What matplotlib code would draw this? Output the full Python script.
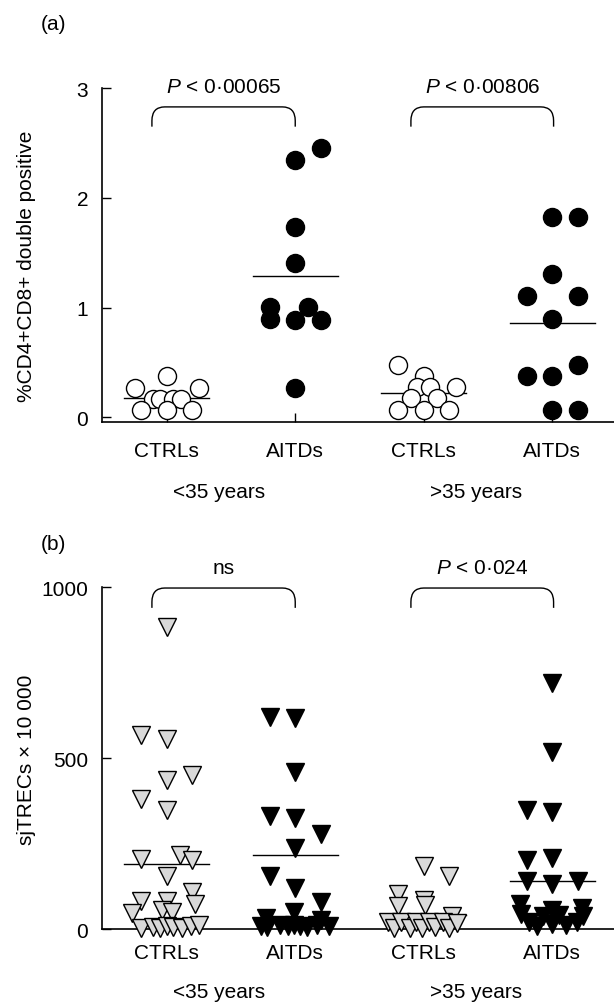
import numpy as np
import matplotlib.pyplot as plt
from matplotlib.path import Path
from matplotlib.patches import PathPatch

plt.rcParams['font.family'] = ['Liberation Sans', 'DejaVu Sans']
plt.rcParams['mathtext.fontset'] = 'custom'
plt.rcParams['mathtext.rm'] = 'Liberation Sans'
plt.rcParams['mathtext.it'] = 'Liberation Sans:italic'

groups = ['CTRLs', 'AITDs', 'CTRLs', 'AITDs']
ages = ['<35 years', '>35 years']

# (a) %CD4+CD8+ double positive, values and jitter
a_ctrl_young = [0.375, 0.27, 0.27, 0.17, 0.17, 0.17, 0.17, 0.07, 0.07, 0.07]
a_ctrl_young_dx = [0, -0.25, 0.25, -0.11, -0.05, 0.05, 0.11, -0.2, 0, 0.2]
a_aitd_young = [2.455, 2.35, 1.733, 1.41, 1.004, 1.004, 0.897, 0.89, 0.89, 0.27]
a_aitd_young_dx = [0.2, 0, 0, 0, -0.2, 0.1, -0.2, 0, 0.2, 0]
a_ctrl_old = [0.48, 0.38, 0.28, 0.28, 0.28, 0.174, 0.174, 0.067, 0.067, 0.067]
a_ctrl_old_dx = [-0.2, 0, -0.05, 0.05, 0.25, -0.1, 0.1, -0.2, 0, 0.2]
a_aitd_old = [1.83, 1.83, 1.31, 1.11, 1.11, 0.897, 0.48, 0.375, 0.375, 0.067, 0.067]
a_aitd_old_dx = [0, 0.2, 0, -0.2, 0.2, 0, 0.2, -0.2, 0, 0, 0.2]
a_means = [0.18, 1.29, 0.22, 0.86]
a_pvals = ['$P$ < 0·00065', '$P$ < 0·00806']

# (b) sjTRECs x 10 000
b_ctrl_young = [884, 569, 556, 450, 436, 381, 349, 206, 218, 203, 157, 110,
                82, 82, 73, 49, 55, 52, 5, 8, 3, 10, 6, 4, 9, 13]
b_ctrl_young_dx = [0, -0.2, 0, 0.2, 0, -0.2, 0, -0.2, 0.1, 0.2, 0, 0.2,
                   -0.2, 0, 0.22, -0.27, -0.04, 0.04,
                   -0.2, -0.11, -0.05, 0, 0.05, 0.12, 0.19, 0.25]
b_aitd_young = [620, 619, 459, 332, 325, 278, 237, 157, 121, 79, 33, 52, 28,
                10, 8, 12, 9, 14, 10, 8, 12, 10]
b_aitd_young_dx = [-0.2, 0, 0, -0.2, 0, 0.2, 0, -0.2, 0, 0.2, -0.23, -0.01, 0.2,
                   -0.27, -0.22, -0.12, -0.06, -0.01, 0.04, 0.09, 0.17, 0.26]
b_ctrl_old = [186, 156, 102, 67, 87, 72, 38,
              20, 5, 20, 5, 22, 4, 20, 6, 22, 5, 18]
b_ctrl_old_dx = [0, 0.2, -0.2, -0.2, 0, 0.01, 0.22,
                 -0.28, -0.23, -0.18, -0.11, -0.06, -0.01, 0.04, 0.09, 0.15, 0.2, 0.26]
b_aitd_old = [721, 518, 348, 342, 203, 208, 140, 132, 142, 74, 57, 62,
              45, 20, 10, 40, 15, 42, 12, 20, 38]
b_aitd_old_dx = [0, 0, -0.2, 0, -0.2, 0, -0.2, 0, 0.2, -0.25, 0, 0.23,
                 -0.24, -0.18, -0.12, -0.07, 0, 0.05, 0.11, 0.19, 0.24]
b_means = [192, 217, 41, 141]
b_pvals = ['ns', '$P$ < 0·024']

pos = [1, 2, 3, 4]
brackets = [(0.885, 2.0), (2.9, 4.01)]


def bracket(ax, x0, x1, ybot, ytop):
    h = ytop - ybot
    dx = 0.1
    verts = [(x0, ybot), (x0, ybot + 0.3 * h), (x0, ytop), (x0 + dx, ytop),
             (x1 - dx, ytop), (x1, ytop), (x1, ybot + 0.3 * h), (x1, ybot)]
    codes = [Path.MOVETO, Path.LINETO, Path.CURVE3, Path.CURVE3,
             Path.LINETO, Path.CURVE3, Path.CURVE3, Path.LINETO]
    ax.add_patch(PathPatch(Path(verts, codes), fc='none', ec='black', lw=1, clip_on=False))


def style(ax, ylim, yticks, xpad, agepad):
    ax.set_xlim(0.4965, 4.48)
    ax.set_ylim(*ylim)
    ax.set_yticks(yticks)
    ax.set_xticks(pos, groups)
    for s in ['top', 'right']:
        ax.spines[s].set_visible(False)
    for s in ['left', 'bottom']:
        ax.spines[s].set_linewidth(1.2)
    ax.tick_params(direction='in', length=6.5, width=1, labelsize=15, pad=10)
    ax.tick_params(axis='x', pad=xpad)
    for i, lab in enumerate(ages):
        ax.annotate(lab, xy=(1.41 + 2 * i, 0), xycoords=('data', 'axes fraction'),
                    xytext=(0, -agepad), textcoords='offset points',
                    ha='center', va='center', fontsize=15)


fig = plt.figure(figsize=(6.14, 10.04), dpi=100)

# ---- panel (a)
ax = fig.add_axes([0.1661, 0.5789, 0.8339, 0.3322])
style(ax, (-0.04, 3), [0, 1, 2, 3], 14, 50)
sets = [(a_ctrl_young, a_ctrl_young_dx), (a_aitd_young, a_aitd_young_dx),
        (a_ctrl_old, a_ctrl_old_dx), (a_aitd_old, a_aitd_old_dx)]
for i, (vals, dx) in enumerate(sets):
    ax.plot([pos[i] - 0.33, pos[i] + 0.33], [a_means[i]] * 2, color='black', lw=1, zorder=2)
    fc = 'white' if i % 2 == 0 else 'black'
    ax.plot(pos[i] + np.array(dx), vals, 'o', ms=13, mfc=fc, mec='black', mew=1,
            zorder=3, clip_on=False)
for (x0, x1), p in zip(brackets, a_pvals):
    bracket(ax, x0, x1, 2.65, 2.83)
    ax.text((x0 + x1) / 2, 3.02, p, ha='center', va='center', fontsize=15)

# ---- panel (b)
ax = fig.add_axes([0.1661, 0.0734, 0.8339, 0.3406])
style(ax, (0, 1000), [0, 500, 1000], 9.5, 45)
sets = [(b_ctrl_young, b_ctrl_young_dx), (b_aitd_young, b_aitd_young_dx),
        (b_ctrl_old, b_ctrl_old_dx), (b_aitd_old, b_aitd_old_dx)]
for i, (vals, dx) in enumerate(sets):
    ax.plot([pos[i] - 0.33, pos[i] + 0.33], [b_means[i]] * 2, color='black', lw=1, zorder=2)
    fc = '#d9d9d9' if i % 2 == 0 else 'black'
    ax.plot(pos[i] + np.array(dx), vals, 'v', ms=13.5, mfc=fc, mec='black', mew=1,
            zorder=3, clip_on=False)
for (x0, x1), p in zip(brackets, b_pvals):
    bracket(ax, x0, x1, 940, 998)
    ax.text((x0 + x1) / 2, 1059, p, ha='center', va='center', fontsize=15)

fig.text(27 / 614, 1 - 266.7 / 1004, '%CD4+CD8+ double positive', rotation=90,
         ha='center', va='center', fontsize=15)
fig.text(27 / 614, 1 - 760 / 1004, 'sjTRECs × 10 000', rotation=90,
         ha='center', va='center', fontsize=15)
fig.text(53 / 614, 1 - 25 / 1004, '(a)', ha='center', va='center', fontsize=15)
fig.text(53 / 614, 1 - 545 / 1004, '(b)', ha='center', va='center', fontsize=15)

fig.savefig('out.png', dpi=100)
